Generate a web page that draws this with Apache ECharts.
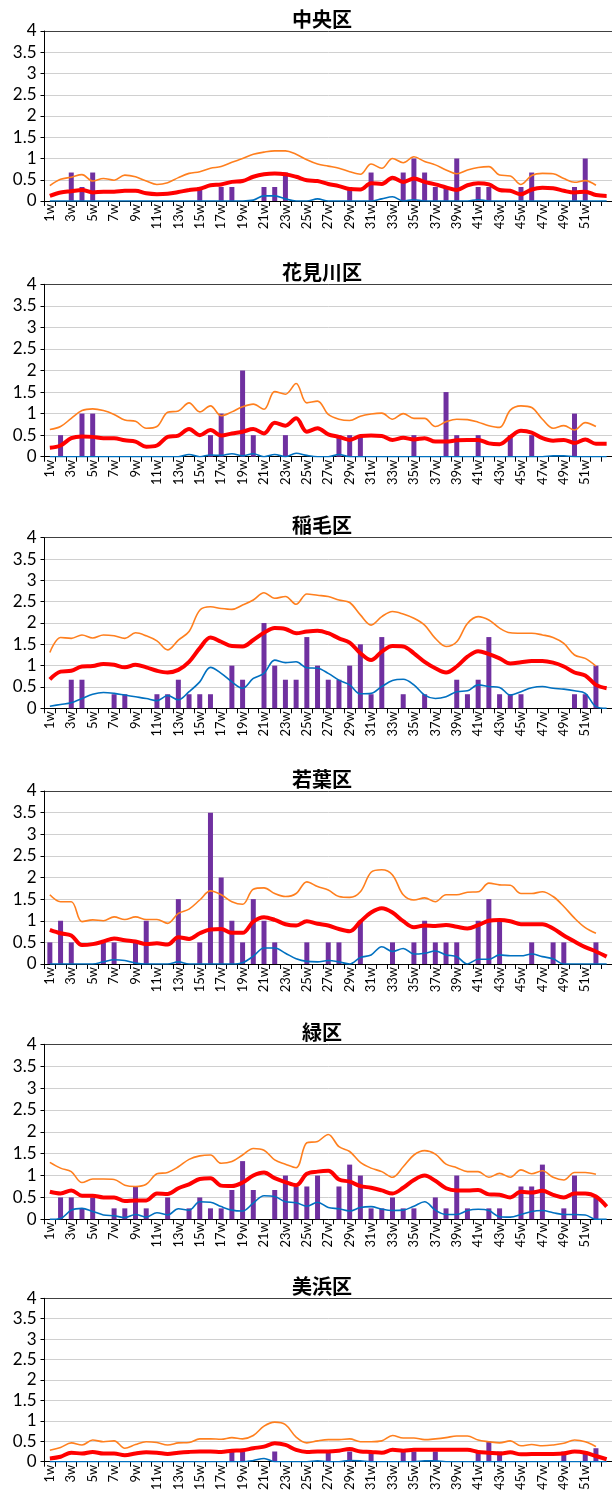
<!DOCTYPE html>
<html><head><meta charset="utf-8">
<script src="https://cdn.jsdelivr.net/npm/echarts@6/dist/echarts.min.js"></script>
<style>html,body{margin:0;padding:0;background:#fff}#c{width:612px;height:1493px}</style>
</head><body><div id="c"></div>
<script>
const weeks = ['1w','2w','3w','4w','5w','6w','7w','8w','9w','10w','11w','12w','13w','14w','15w','16w','17w','18w','19w','20w','21w','22w','23w','24w','25w','26w','27w','28w','29w','30w','31w','32w','33w','34w','35w','36w','37w','38w','39w','40w','41w','42w','43w','44w','45w','46w','47w','48w','49w','50w','51w','52w',''];
const titles = ['中央区','花見川区','稲毛区','若葉区','緑区','美浜区'];
const yTicks = [0,0.5,1,1.5,2,2.5,3,3.5,4];

const bars1 = [0,0,0.67,0.33,0.67,0,0,0,0,0, 0,0,0,0,0.33,0,0.33,0.33,0,0, 0.33,0.33,0.67,0,0,0,0,0,0.33,0, 0.67,0,0,0.67,1,0.67,0.33,0.33,1,0, 0.33,0.33,0,0,0.33,0.67,0,0,0,0.33, 1,0,0];
const orange1 = [0.36,0.51,0.56,0.62,0.47,0.53,0.49,0.61,0.57,0.47, 0.39,0.43,0.55,0.65,0.69,0.77,0.81,0.91,1.0,1.1, 1.15,1.18,1.18,1.1,0.97,0.87,0.82,0.77,0.69,0.63, 0.87,0.77,1.0,0.9,1.04,0.93,0.85,0.73,0.64,0.73, 0.79,0.81,0.61,0.59,0.39,0.6,0.65,0.64,0.53,0.44, 0.48,0.37,null];
const red1 = [0.12,0.2,0.23,0.26,0.2,0.22,0.22,0.24,0.24,0.18, 0.16,0.17,0.21,0.26,0.29,0.37,0.39,0.45,0.47,0.57, 0.63,0.65,0.63,0.57,0.49,0.47,0.4,0.35,0.28,0.27, 0.42,0.4,0.55,0.45,0.53,0.45,0.39,0.32,0.26,0.37, 0.42,0.39,0.26,0.24,0.16,0.27,0.31,0.3,0.24,0.2, 0.22,0.14,0.12];
const blue1 = [0,0,0,0,0,0,0,0,0,0, 0,0,0,0,0,0,0,0,0,0.02, 0.12,0.12,0.05,0,0,0.05,0,0,0,0, 0,0.05,0.1,0,0.03,0,0,0,0,0, 0.03,0,0,0,0,0,0,0,0,0, 0,0,0];

const bars2 = [0,0.5,0,1,1,0,0,0,0,0, 0,0,0,0,0,0.5,1,0,2,0.5, 0,0,0.5,0,0,0,0,0.5,0.5,0.5, 0,0,0,0,0.5,0,0,1.5,0.5,0, 0.5,0,0,0.5,0,0.5,0,0,0,1, 0,0,0];
const orange2 = [0.63,0.7,0.89,1.07,1.11,1.07,0.98,0.85,0.82,0.66, 0.7,1.03,1.06,1.25,1.04,1.18,0.95,1.04,1.16,1.22, 1.1,1.51,1.45,1.7,1.25,1.29,0.98,0.87,0.84,0.94, 0.99,1.01,0.87,1.0,0.89,0.89,0.7,0.81,0.87,0.86, 0.8,0.72,0.68,1.08,1.18,1.14,0.87,0.66,0.72,0.62, 0.79,0.7,null];
const red2 = [0.21,0.26,0.43,0.47,0.46,0.43,0.43,0.38,0.35,0.23, 0.26,0.46,0.49,0.64,0.5,0.62,0.49,0.54,0.58,0.64, 0.54,0.79,0.72,0.89,0.58,0.66,0.52,0.46,0.39,0.48, 0.49,0.48,0.39,0.44,0.4,0.43,0.35,0.35,0.38,0.39, 0.39,0.31,0.29,0.46,0.6,0.56,0.43,0.37,0.39,0.32, 0.4,0.3,0.3];
const blue2 = [0,0,0,0,0,0,0,0,0,0, 0,0,0,0.05,0,0.04,0.03,0.07,0.02,0.07, 0,0.05,0,0.08,0.03,0,0,0.05,0,0, 0,0,0,0,0,0,0,0,0,0, 0,0,0,0,0,0,0,0.02,0.02,0, 0,0,0];

const bars3 = [0,0,0.67,0.67,0,0,0.33,0.33,0,0, 0.33,0.33,0.67,0.33,0.33,0.33,0,1,0.67,0, 2,1,0.67,0.67,1.67,1,0.67,0.67,1,1.5, 0.33,1.67,0,0.33,0,0.33,0,0,0.67,0.33, 0.67,1.67,0.33,0.33,0.33,0,0,0,0,0.33, 0.33,1,0];
const orange3 = [1.31,1.66,1.64,1.72,1.65,1.72,1.7,1.64,1.77,1.7, 1.58,1.37,1.6,1.8,2.3,2.38,2.34,2.32,2.42,2.54, 2.71,2.58,2.62,2.44,2.68,2.65,2.62,2.54,2.48,2.19, 1.95,2.15,2.27,2.21,2.11,1.95,1.64,1.45,1.56,1.99, 2.15,2.07,1.88,1.77,1.76,1.76,1.72,1.66,1.52,1.25, 1.17,0.99,null];
const red3 = [0.68,0.86,0.88,0.98,0.99,1.04,1.02,0.96,1.02,0.96, 0.88,0.84,0.9,1.09,1.41,1.66,1.56,1.46,1.45,1.6, 1.77,1.88,1.86,1.76,1.8,1.82,1.76,1.64,1.54,1.29, 1.13,1.33,1.46,1.45,1.29,1.09,0.94,0.84,0.98,1.21, 1.34,1.27,1.17,1.05,1.08,1.11,1.11,1.07,0.98,0.84, 0.77,0.55,0.47];
const blue3 = [0.05,0.09,0.13,0.23,0.33,0.37,0.35,0.31,0.27,0.23, 0.18,0.3,0.2,0.39,0.62,0.96,0.82,0.62,0.47,0.7, 0.82,1.13,1.07,1.09,0.95,0.94,0.82,0.66,0.55,0.34, 0.35,0.51,0.65,0.68,0.55,0.31,0.23,0.27,0.39,0.41, 0.55,0.51,0.49,0.31,0.39,0.48,0.51,0.47,0.45,0.41, 0.35,0.04,0];

const bars4 = [0.5,1,0.5,0,0,0.5,0.5,0,0.5,1, 0,0,1.5,0,0.5,3.5,2,1,0.5,1.5, 1,0.5,0,0,0.5,0,0.5,0.5,0,1, 0,0,0.5,0,0.5,1,0.5,0.5,0.5,0, 1,1.5,1,0,0,0.5,0,0.5,0.5,0, 0,0.5,0];
const orange4 = [1.6,1.44,1.44,0.98,1.02,1.0,1.09,1.03,1.09,1.03, 1.03,0.94,1.17,1.27,1.48,1.69,1.6,1.44,1.38,1.73, 1.76,1.63,1.56,1.63,1.9,1.79,1.71,1.56,1.54,1.67, 2.12,2.18,2.06,1.6,1.48,1.53,1.44,1.6,1.6,1.66, 1.67,1.87,1.83,1.82,1.63,1.63,1.67,1.56,1.33,1.06, 0.84,0.71,null];
const red4 = [0.79,0.71,0.66,0.44,0.46,0.52,0.59,0.55,0.52,0.46, 0.48,0.45,0.62,0.58,0.71,0.8,0.81,0.72,0.72,0.98, 1.08,1.02,0.92,0.89,0.99,0.93,0.89,0.81,0.76,0.98, 1.19,1.29,1.19,0.99,0.85,0.89,0.88,0.9,0.86,0.82, 0.9,1.0,1.02,0.99,0.92,0.92,0.92,0.82,0.66,0.52, 0.39,0.29,0.17];
const blue4 = [0,0,0,0,0,0.05,0.1,0.08,0.02,0, 0,0,0.05,0,0,0,0,0,0.03,0.18, 0.37,0.37,0.25,0.12,0.06,0.05,0.08,0.05,0,0.15, 0.21,0.4,0.29,0.36,0.23,0.25,0.3,0.21,0.17,0, 0.11,0.11,0.21,0.19,0.19,0.23,0.17,0.12,0,0, 0,0,0];

const bars5 = [0,0.5,0.5,0.25,0.5,0,0.25,0.25,0.75,0.25, 0,0.5,0,0.25,0.5,0.25,0.25,0.67,1.33,0.67, 0,0.67,1,0.75,0.75,1,0,0.75,1.25,1, 0.25,0.25,0.5,0.25,0.25,0,0.5,0.25,1,0.25, 0,0.25,0.25,0,0.75,0.75,1.25,0,0.25,1, 0,0.5,0];
const orange5 = [1.3,1.17,1.09,0.84,0.92,0.92,0.91,0.78,0.75,0.8, 1.04,1.07,1.2,1.37,1.45,1.47,1.28,1.32,1.47,1.62, 1.58,1.36,1.26,1.18,1.75,1.78,1.94,1.66,1.55,1.3, 1.17,1.09,0.96,1.2,1.47,1.57,1.49,1.26,1.18,1.09, 1.09,0.96,1.05,0.96,1.13,1.04,1.11,0.96,0.9,1.07, 1.07,1.03,null];
const red5 = [0.63,0.59,0.66,0.54,0.54,0.5,0.5,0.42,0.43,0.43, 0.59,0.58,0.71,0.8,0.92,0.94,0.77,0.76,0.84,1.0, 1.07,0.94,0.85,0.78,1.04,1.09,1.11,0.91,0.86,0.76, 0.72,0.66,0.59,0.72,0.9,1.0,0.88,0.71,0.66,0.66, 0.67,0.57,0.56,0.5,0.63,0.61,0.65,0.56,0.5,0.59, 0.59,0.52,0.29];
const blue5 = [0,0.02,0.21,0.25,0.18,0.1,0.08,0.04,0.11,0.05, 0.15,0.1,0.24,0.21,0.4,0.39,0.29,0.21,0.19,0.37, 0.54,0.52,0.4,0.38,0.3,0.39,0.27,0.24,0.19,0.27, 0.29,0.23,0.2,0.21,0.3,0.4,0.21,0.11,0.11,0.2, 0.23,0.2,0.06,0.05,0.11,0.18,0.2,0.15,0.11,0.11, 0.1,0,0];

const bars6 = [0,0,0,0,0,0,0,0,0,0, 0,0,0,0,0,0,0,0.25,0.25,0, 0,0.25,0,0,0,0,0.25,0,0.25,0, 0.25,0,0,0.25,0.25,0,0.25,0,0,0, 0.25,0.5,0.25,0,0,0,0,0,0.25,0, 0.25,0.33,0];
const orange6 = [0.28,0.35,0.46,0.41,0.53,0.49,0.51,0.33,0.42,0.49, 0.47,0.41,0.46,0.47,0.56,0.56,0.55,0.59,0.56,0.64, 0.87,0.97,0.91,0.6,0.46,0.51,0.54,0.54,0.56,0.49, 0.49,0.51,0.64,0.58,0.58,0.54,0.56,0.59,0.63,0.63, 0.53,0.49,0.46,0.51,0.39,0.42,0.39,0.41,0.45,0.53, 0.49,0.37,null];
const red6 = [0.08,0.12,0.22,0.2,0.24,0.2,0.2,0.16,0.2,0.23, 0.22,0.19,0.22,0.24,0.25,0.25,0.24,0.27,0.28,0.33, 0.37,0.45,0.41,0.29,0.24,0.25,0.25,0.27,0.31,0.25, 0.24,0.22,0.29,0.27,0.29,0.29,0.29,0.29,0.29,0.29, 0.24,0.22,0.2,0.23,0.18,0.19,0.19,0.19,0.2,0.25, 0.22,0.14,0.06];
const blue6 = [0,0,0,0,0,0,0,0,0,0, 0,0,0,0,0,0,0,0,0,0.03, 0.08,0,0,0,0,0.02,0,0,0.03,0.02, 0,0,0,0,0,0.02,0.02,0,0,0, 0,0,0,0,0,0,0,0,0,0, 0,0,0];

const barsAll = [bars1,bars2,bars3,bars4,bars5,bars6];
const orangeAll = [orange1,orange2,orange3,orange4,orange5,orange6];
const redAll = [red1,red2,red3,red4,red5,red6];
const blueAll = [blue1,blue2,blue3,blue4,blue5,blue6];

// layout (plot area top / height for each panel)
const gridTops = [31, 284.3, 537.7, 791, 1044.3, 1298.3];
const gridHeights = [170, 172.4, 170.6, 173, 175, 172.7];

const numFont = 'Lato, "Liberation Sans", sans-serif';
const jpFont = '"Noto Sans CJK JP", sans-serif';
const gridColors = ['#d0d0d0','#d0d0d0','#d0d0d0','#d0d0d0','#d0d0d0','#d0d0d0','#d0d0d0','#d0d0d0','#404040'];

const option = {
  animation: false,
  backgroundColor: '#fff',
  title: [], grid: [], xAxis: [], yAxis: [], series: []
};
for (let i = 0; i < 6; i++) {
  option.title.push({
    text: titles[i], left: 322, top: gridTops[i] - 22, textAlign: 'center', padding: 0,
    textStyle: { fontFamily: jpFont, fontSize: 20, fontWeight: 'bold', color: '#000' }
  });
  option.grid.push({ left: 44.5, width: 567.5, top: gridTops[i], height: gridHeights[i], containLabel: false });
  option.xAxis.push({
    type: 'category', gridIndex: i, data: weeks, boundaryGap: true,
    axisLine: { show: true, onZero: false, lineStyle: { color: '#000', width: 1 } },
    axisTick: { show: true, interval: 0, length: 5, lineStyle: { color: '#000' } },
    axisLabel: { interval: 1, rotate: 90, fontSize: 13, fontFamily: numFont, color: '#000', margin: 3 },
    splitLine: { show: false }
  });
  option.yAxis.push({
    type: 'value', gridIndex: i, min: 0, max: 4, interval: 0.5,
    axisLine: { show: true, lineStyle: { color: '#000', width: 1 } },
    axisTick: { show: true, length: 4, lineStyle: { color: '#000' } },
    axisLabel: { fontSize: 17, fontFamily: numFont, color: '#000', margin: 8 },
    splitLine: { show: true, lineStyle: { color: gridColors, width: 1 } }
  });
  option.series.push({
    type: 'bar', xAxisIndex: i, yAxisIndex: i, data: barsAll[i].map(v => v === 0 ? null : v),
    barWidth: 5, itemStyle: { color: '#7030A0' }, z: 1
  });
  option.series.push({
    type: 'line', xAxisIndex: i, yAxisIndex: i, data: orangeAll[i], smooth: 0.35,
    showSymbol: false, symbol: 'none', lineStyle: { color: '#FF7F1E', width: 1.6 }, z: 2
  });
  option.series.push({
    type: 'line', xAxisIndex: i, yAxisIndex: i, data: redAll[i], smooth: 0.35,
    showSymbol: false, symbol: 'none', lineStyle: { color: '#FF0000', width: 4 }, z: 3
  });
  option.series.push({
    type: 'line', xAxisIndex: i, yAxisIndex: i, data: blueAll[i], smooth: 0.35,
    showSymbol: false, symbol: 'none', lineStyle: { color: '#0070C0', width: 1.6 }, z: 4
  });
}
const chart = echarts.init(document.getElementById('c'), null, { renderer: 'canvas' });
chart.setOption(option);
</script>
</body></html>
